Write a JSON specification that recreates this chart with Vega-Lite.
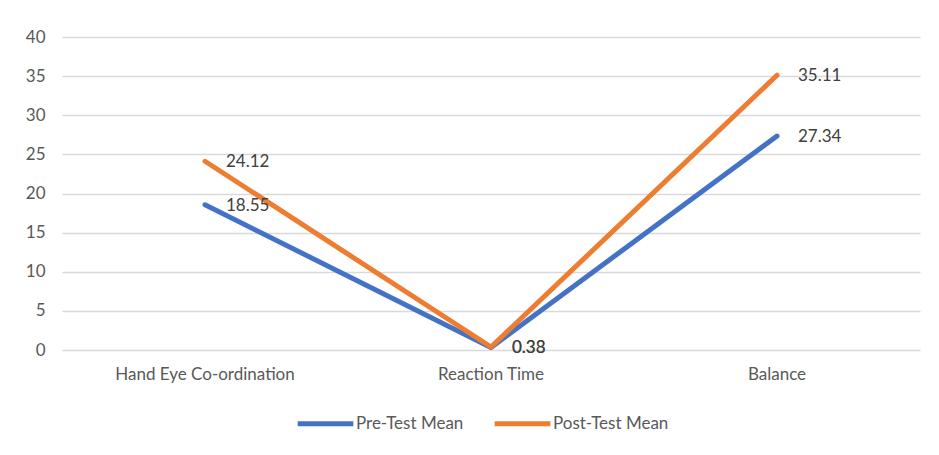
{
  "$schema": "https://vega.github.io/schema/vega-lite/v6.json",
  "width": 858,
  "height": 313,
  "autosize": "none",
  "padding": {"left": 62, "top": 37, "right": 19, "bottom": 105},
  "background": "white",
  "data": {"values": [
    {"test": "Hand Eye Co-ordination", "series": "Pre-Test Mean", "value": 18.55},
    {"test": "Reaction Time", "series": "Pre-Test Mean", "value": 0.33},
    {"test": "Balance", "series": "Pre-Test Mean", "value": 27.34},
    {"test": "Hand Eye Co-ordination", "series": "Post-Test Mean", "value": 24.12},
    {"test": "Reaction Time", "series": "Post-Test Mean", "value": 0.38},
    {"test": "Balance", "series": "Post-Test Mean", "value": 35.11}
  ]},
  "encoding": {
    "x": {"field": "test", "type": "nominal", "sort": ["Hand Eye Co-ordination", "Reaction Time", "Balance"],
      "scale": {"type": "band", "paddingInner": 0, "paddingOuter": 0},
      "axis": {"title": null, "labelAngle": 0, "domain": false, "ticks": false, "grid": false, "labelPadding": 16, "labelFont": "Lato", "labelFontSize": 17, "labelColor": "#595959"}},
    "y": {"field": "value", "type": "quantitative", "scale": {"domain": [0, 40]},
      "axis": {"title": null, "values": [0,5,10,15,20,25,30,35,40], "domain": false, "ticks": false, "labelPadding": 17, "labelFont": "Lato", "labelFontSize": 17, "labelColor": "#595959", "gridColor": "#d9d9d9", "gridWidth": 1.5}},
    "color": {"field": "series", "type": "nominal",
      "scale": {"domain": ["Pre-Test Mean", "Post-Test Mean"], "range": ["#4472C4", "#ED7D31"]},
      "legend": {"title": null, "orient": "none", "legendX": 233, "legendY": 356, "direction": "horizontal", "symbolType": "stroke", "symbolSize": 3100, "symbolStrokeWidth": 5, "labelFont": "Lato", "labelFontSize": 17, "labelColor": "#595959", "labelOffset": 0, "columnPadding": 20}}
  },
  "layer": [
    {"mark": {"type": "line", "strokeWidth": 5, "strokeCap": "round", "strokeJoin": "round"}},
    {"mark": {"type": "text", "align": "left", "baseline": "middle", "dx": 21, "dy": 1, "font": "Lato", "fontSize": 17, "color": "#404040"},
      "encoding": {"text": {"field": "value", "type": "quantitative", "format": ".2f"}, "color": {"value": "#404040"}}}
  ],
  "config": {"view": {"stroke": null}}
}
